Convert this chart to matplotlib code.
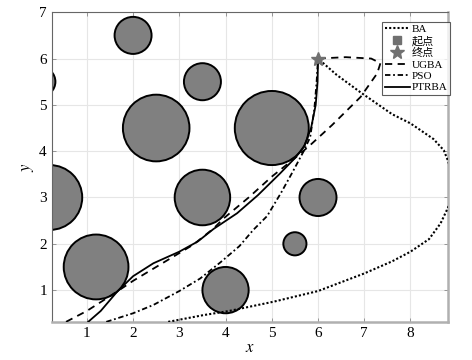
import matplotlib
matplotlib.use('Agg')
import matplotlib.pyplot as plt
from matplotlib.patches import Circle

plt.rcParams['font.family'] = ['Liberation Serif', 'Noto Sans CJK SC']
plt.rcParams['mathtext.fontset'] = 'stix'

# obstacles: (x, y, r)
obs_x = [2.0, 3.5, 0.0, 2.5, 5.0, 3.5, 0.2, 1.2, 6.0, 5.5, 4.0]
obs_y = [6.5, 5.5, 5.5, 4.5, 4.5, 3.0, 3.0, 1.5, 3.0, 2.0, 1.0]
obs_r = [0.4, 0.4, 0.32, 0.72, 0.8, 0.6, 0.7, 0.7, 0.4, 0.25, 0.5]

# BA path
ba_x = [2.76, 3.52, 4.08, 5.04, 6.0, 7.0, 7.6, 8.0, 8.4, 8.65, 8.82, 8.95, 8.82, 8.72, 8.5, 8.0, 7.6, 6.92, 6.4, 6.0]
ba_y = [0.315, 0.46, 0.55, 0.75, 0.98, 1.36, 1.62, 1.83, 2.1, 2.44, 2.8, 3.3, 3.77, 4.02, 4.26, 4.6, 4.8, 5.27, 5.65, 6.0]

# UGBA path
ug_x = [0.55, 1.0, 1.36, 1.7, 2.0, 2.4, 2.8, 3.3, 3.74, 3.96, 4.5, 5.0, 5.5, 5.83, 6.3, 6.92, 7.28, 7.35, 7.15, 6.6, 6.0]
ug_y = [0.315, 0.55, 0.78, 1.0, 1.2, 1.44, 1.68, 1.98, 2.33, 2.55, 3.0, 3.45, 3.85, 4.13, 4.56, 5.17, 5.68, 5.9, 6.0, 6.03, 6.0]

# PSO path
pso_x = [1.42, 2.0, 2.44, 3.0, 3.45, 3.89, 4.3, 4.6, 4.9, 5.2, 5.45, 5.69, 5.83, 5.92, 5.97, 6.0]
pso_y = [0.315, 0.5, 0.68, 0.98, 1.25, 1.6, 1.95, 2.3, 2.6, 3.1, 3.55, 4.0, 4.3, 4.9, 5.5, 6.0]

# PTRBA path
pt_x = [1.03, 1.3, 1.65, 2.0, 2.44, 3.0, 3.4, 3.74, 4.25, 4.7, 5.18, 5.5, 5.7, 5.85, 5.95, 5.99, 6.0]
pt_y = [0.315, 0.55, 0.96, 1.3, 1.58, 1.83, 2.05, 2.32, 2.66, 3.05, 3.52, 3.85, 4.1, 4.5, 5.0, 5.5, 6.0]

start = (1.0, 0.0)
goal = (6.0, 6.0)

fig = plt.figure(figsize=(4.72, 3.6), dpi=100)
ax = fig.add_axes([0.111, 0.106, 0.839, 0.86])

for cx, cy, r in zip(obs_x, obs_y, obs_r):
    ax.add_patch(Circle((cx, cy), r, facecolor='#808080', edgecolor='black', lw=1.4, zorder=2))

ax.plot(ba_x, ba_y, color='black', ls=(0, (1, 1)), lw=1.5, label='BA', zorder=3)
ax.plot(*start, 's', color='#707070', ms=6, label='起点', zorder=4)
ax.plot(*goal, '*', color='#707070', ms=10, label='终点', zorder=5)
ax.plot(ug_x, ug_y, color='black', ls=(0, (4, 3)), lw=1.3, label='UGBA', zorder=3)
ax.plot(pso_x, pso_y, color='black', ls=(0, (3, 1.5, 1, 1.5)), lw=1.3, label='PSO', zorder=3)
ax.plot(pt_x, pt_y, color='black', ls='-', lw=1.3, label='PTRBA', zorder=3)

ax.set_xlim(0.255, 8.82)
ax.set_ylim(0.315, 7.0)
ax.set_xticks([1, 2, 3, 4, 5, 6, 7, 8])
ax.set_yticks([1, 2, 3, 4, 5, 6, 7])
ax.grid(True, color='#e6e6e6', lw=0.8)
ax.set_axisbelow(True)

ax.tick_params(direction='in', length=3, width=0.6, color='#888888', top=True, right=True,
               labelsize=11, pad=4)
for side in ['top', 'left']:
    ax.spines[side].set_color('#666666')
    ax.spines[side].set_linewidth(0.8)
for side in ['bottom', 'right']:
    ax.spines[side].set_color('#b0b0b0')
    ax.spines[side].set_linewidth(1.8)

ax.set_xlabel('$x$', fontsize=12, labelpad=0)
ax.set_ylabel('$y$', fontsize=12, labelpad=2)

leg = ax.legend(loc='upper right', bbox_to_anchor=(1.005, 0.97), fontsize=8, frameon=True,
                fancybox=False, handlelength=2.2, handletextpad=0.2, labelspacing=0.15,
                borderpad=0.25, borderaxespad=0)
leg.get_frame().set_edgecolor('#333333')
leg.get_frame().set_linewidth(0.8)

fig.savefig('out.png', dpi=100)
